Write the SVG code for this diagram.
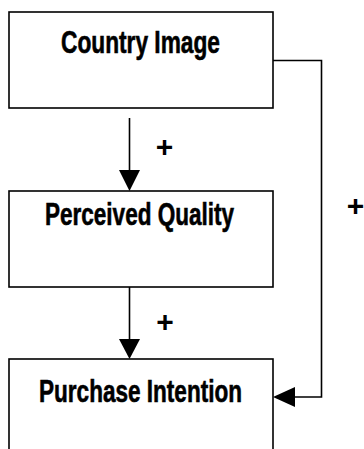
<svg xmlns="http://www.w3.org/2000/svg" width="364" height="449" viewBox="0 0 364 449">
<style>
  .box{fill:#fff;stroke:#000;stroke-width:1.6}
  .lbl{font-family:"Liberation Sans",Arial,sans-serif;font-weight:bold;font-size:32px;fill:#000;stroke:#000;stroke-width:0.6;text-anchor:middle}
  .plus{font-family:"Liberation Sans",Arial,sans-serif;font-weight:bold;font-size:30px;fill:#000;text-anchor:middle}
  .line{fill:none;stroke:#000;stroke-width:1.6}
  .head{fill:#000;stroke:none}
</style>
<rect width="364" height="449" fill="#fff"/>
<g id="connectors">
  <line class="line" x1="129.5" y1="118" x2="129.5" y2="172"/>
  <polygon class="head" points="119,170 140,170 129.5,191"/>
  <line class="line" x1="129.5" y1="287" x2="129.5" y2="341"/>
  <polygon class="head" points="119,339 140,339 129.5,359"/>
  <polyline class="line" points="273,60.5 321.5,60.5 321.5,397 294,397"/>
  <polygon class="head" points="295,387 295,407 273,397"/>
  <text class="plus" x="164.5" y="156.5">+</text>
  <text class="plus" x="165" y="331.5">+</text>
  <text class="plus" x="355.5" y="215.5">+</text>
</g>
<g id="country-image">
  <rect class="box" x="9" y="12" width="264" height="96"/>
  <text class="lbl" x="140.5" y="53" textLength="159" lengthAdjust="spacingAndGlyphs">Country Image</text>
</g>
<g id="perceived-quality">
  <rect class="box" x="9" y="191" width="264" height="96"/>
  <text class="lbl" x="139.5" y="225" textLength="189" lengthAdjust="spacingAndGlyphs">Perceived Quality</text>
</g>
<g id="purchase-intention">
  <rect class="box" x="9" y="359" width="264" height="100"/>
  <text class="lbl" x="140.5" y="401.5" textLength="203" lengthAdjust="spacingAndGlyphs">Purchase Intention</text>
</g>
</svg>
